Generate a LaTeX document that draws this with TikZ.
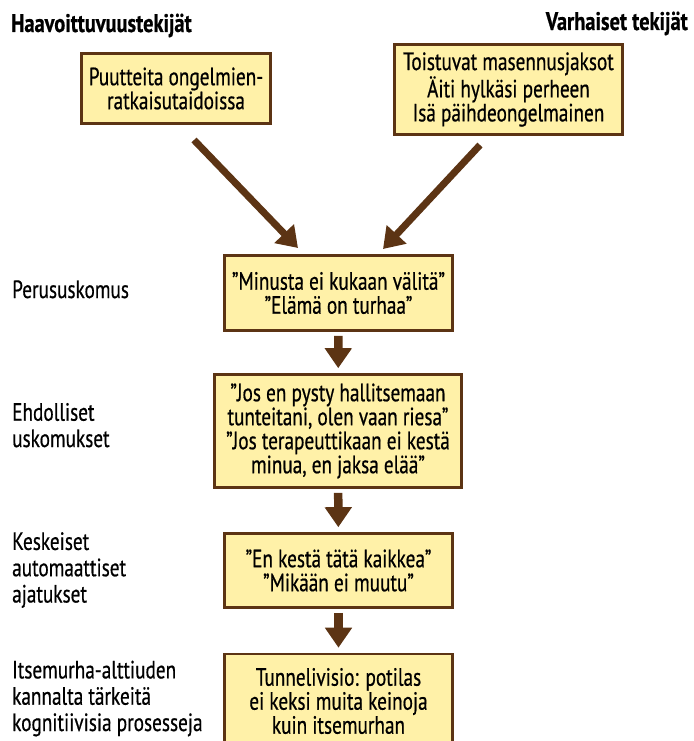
\documentclass[tikz,border=0pt]{standalone}
\usepackage{fontspec}
\setmainfont{PT Sans}[FakeStretch=0.77,FakeBold=0.6]
\newfontfamily\hdrfont{PT Sans Bold}[FakeStretch=0.80,FakeBold=0.6]
\usetikzlibrary{arrows.meta}
\definecolor{boxfill}{HTML}{FFF1A8}
\definecolor{brownline}{HTML}{5C3414}
\begin{document}
\begin{tikzpicture}[x=1pt,y=-1pt,
  box/.style={draw=brownline, line width=2.6pt, fill=boxfill, align=center, inner sep=0pt, font=\fontsize{25}{24}\selectfont},
  lbl/.style={anchor=base west, align=left, inner sep=0pt, font=\fontsize{25}{26.3}\selectfont},
  hdr/.style={inner sep=0pt, font=\hdrfont\fontsize{25.5}{26}\selectfont},
  diag/.style={draw=brownline, line width=7pt, -{Triangle[length=20pt,width=26pt]}},
  down/.style={draw=brownline, line width=8.5pt, -{Triangle[length=20pt,width=26pt]}, shorten <=4pt, shorten >=5pt},
]
\useasboundingbox (0,0) rectangle (693,741);
\clip (0,0) rectangle (693,741);
% headers
\node[hdr, anchor=base west] (h1) at (11,32) {Haavoittuvuustekijät};
\node[hdr, anchor=base east] (h2) at (688,30) {Varhaiset tekijät};
% boxes
\node[box, minimum width=189pt, minimum height=70pt] (b1) at (176,88.5) {Puutteita ongelmien-\\ratkaisutaidoissa};
\node[box, minimum width=228pt, minimum height=90pt] (b2) at (508.5,89.5) {Toistuvat masennusjaksot\\Äiti hylkäsi perheen\\Isä päihdeongelmainen};
\node[box, minimum width=228pt, minimum height=75pt] (b3) at (338.5,293) {”Minusta ei kukaan välitä”\\”Elämä on turhaa”};
\node[box, minimum width=247pt, minimum height=113pt] (b4) at (338,431) {”Jos en pysty hallitsemaan\\tunteitani, olen vaan riesa”\\”Jos terapeuttikaan ei kestä\\minua, en jaksa elää”};
\node[box, minimum width=228pt, minimum height=74pt] (b5) at (338.5,570.5) {”En kestä tätä kaikkea”\\”Mikään ei muutu”};
\node[box, minimum width=228pt, minimum height=94pt] (b6) at (338.5,701) {Tunnelivisio: potilas\\ei keksi muita keinoja\\kuin itsemurhan};
% left labels (base = last line)
\node[lbl] (l1) at (12,298) {Perususkomus};
\node[lbl] (l2) at (12,447) {Ehdolliset\\uskomukset};
\node[lbl] (l3) at (12,602.5) {Keskeiset\\automaattiset\\ajatukset};
\node[lbl] (l4) at (12,731) {Itsemurha-alttiuden\\kannalta tärkeitä\\kognitiivisia prosesseja};
% arrows
\coordinate (a1s) at (194,140);
\coordinate (a1e) at (298,248);
\coordinate (a2s) at (480,145);
\coordinate (a2e) at (383,249);
\draw[diag] (a1s) -- (a1e);
\draw[diag] (a2s) -- (a2e);
\draw[down] (b3) -- (b4);
\draw[down] (b4) -- (b5);
\draw[down] (b5) -- (b6);
\end{tikzpicture}
\end{document}
